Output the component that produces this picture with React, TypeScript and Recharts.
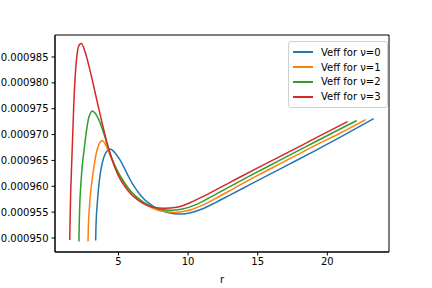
import { LineChart, Line, XAxis, YAxis, ReferenceArea } from 'recharts';

// radius samples and potential values (in units of 1e-6)
const R0 = [3.36, 3.38, 3.42, 3.5, 3.6, 3.7, 3.82, 3.95, 4.1, 4.25, 4.42, 4.6, 4.85, 5.13, 5.42, 5.72, 6.0, 6.32, 6.6, 6.92, 7.3, 7.63, 8.0, 8.35, 8.9, 9.5, 10.2, 11.0, 12.0, 13.0, 14.5, 17.0, 19.0, 21.0, 23.33];
const V0 = [949.5, 952.0, 954.5, 957.5, 960.5, 962.6, 964.3, 965.6, 966.5, 967.0, 967.15, 966.9, 966.1, 965.0, 963.5, 961.9, 960.5, 959.2, 958.2, 957.3, 956.5, 955.9, 955.4, 955.05, 954.75, 954.65, 954.9, 955.6, 956.9, 958.3, 960.4, 963.9, 966.7, 969.6, 973.07];

const R1 = [2.81, 2.84, 2.9, 3.0, 3.12, 3.25, 3.36, 3.5, 3.65, 3.79, 3.95, 4.15, 4.4, 4.7, 5.0, 5.5, 6.0, 6.7, 7.5, 8.3, 9.1, 10.0, 11.0, 12.0, 13.3, 15.0, 17.0, 19.0, 21.0, 22.76];
const V1 = [949.3, 952.5, 955.5, 958.8, 961.5, 964.0, 965.8, 967.4, 968.4, 968.8, 968.6, 967.6, 966.0, 964.2, 962.6, 960.4, 958.7, 957.0, 955.7, 955.1, 954.95, 955.3, 956.3, 957.7, 959.6, 962.1, 964.9, 967.7, 970.4, 972.9];

const R2 = [2.16, 2.18, 2.22, 2.3, 2.4, 2.52, 2.69, 2.83, 3.0, 3.12, 3.3, 3.6, 3.9, 4.2, 4.5, 4.8, 5.2, 5.7, 6.3, 7.0, 7.8, 8.7, 9.6, 10.6, 11.6, 12.9, 14.5, 16.5, 18.5, 20.5, 22.11];
const V2 = [949.3, 952.5, 956.5, 960.5, 964.0, 966.8, 970.5, 972.9, 974.2, 974.55, 974.2, 972.8, 970.6, 968.0, 965.6, 963.6, 961.6, 959.6, 957.9, 956.6, 955.7, 955.35, 955.6, 956.5, 957.9, 959.8, 962.1, 964.9, 967.7, 970.5, 972.7];

const R3 = [1.5, 1.52, 1.56, 1.62, 1.7, 1.8, 1.92, 2.05, 2.2, 2.33, 2.6, 2.9, 3.2, 3.5, 3.8, 4.1, 4.4, 4.7, 5.0, 5.5, 6.0, 6.7, 7.4, 8.3, 9.2, 10.2, 11.2, 12.3, 13.5, 15.0, 17.0, 19.0, 21.45];
const V3 = [949.6, 953.0, 958.0, 963.0, 969.0, 976.5, 982.5, 986.0, 987.4, 987.6, 986.0, 983.0, 979.6, 976.0, 972.5, 969.2, 966.3, 963.9, 962.0, 959.8, 958.2, 956.8, 956.0, 955.75, 955.95, 956.9, 958.2, 959.75, 961.45, 963.55, 966.3, 969.1, 972.5];

const NAMES = ['Veff for ν=0', 'Veff for ν=1', 'Veff for ν=2', 'Veff for ν=3'];
const COLORS = ['#1f77b4', '#ff7f0e', '#2ca02c', '#d62728'];
const X_TICKS = [5, 10, 15, 20];
const Y_TICKS = [0.00095, 0.000955, 0.00096, 0.000965, 0.00097, 0.000975, 0.00098, 0.000985];
const X_DOMAIN = [0.44, 24.43];
const Y_DOMAIN = [0.00094729, 0.00098925];

const build = (rs: number[], vs: number[]) => rs.map((r, i) => ({ r, v: vs[i] * 1e-6 }));
const series = [build(R0, V0), build(R1, V1), build(R2, V2), build(R3, V3)];

const font = 'DejaVu Sans, sans-serif';
const tick = { fontSize: 10, fill: '#000', fontFamily: font };

function LegendBox() {
  return (
    <div
      style={{
        position: 'absolute',
        left: 288,
        top: 41,
        border: '1px solid #d0d0d0',
        borderRadius: 3,
        background: 'rgba(255,255,255,0.8)',
        padding: '3px 6px 3px 4px',
        fontFamily: font,
        fontSize: 10,
        color: '#000',
      }}
    >
      {NAMES.map((n, i) => (
        <div key={n} style={{ display: 'flex', alignItems: 'center', height: 14.8 }}>
          <span style={{ width: 20, height: 2, background: COLORS[i], marginRight: 8 }} />
          <span>{n}</span>
        </div>
      ))}
    </div>
  );
}

export default function App() {
  return (
    <div style={{ position: 'absolute', left: 0, top: 0, width: 432, height: 288, background: '#fff' }}>
      <LineChart width={432} height={288} margin={{ top: 35, right: 43, bottom: 0, left: 0 }}>
        <XAxis
          dataKey="r"
          type="number"
          domain={X_DOMAIN}
          ticks={X_TICKS}
          allowDataOverflow
          height={36}
          tick={tick}
          tickSize={3.5}
          tickMargin={2}
          stroke="#000"
          label={{ value: 'r', position: 'insideBottom', offset: 5, style: { fontSize: 10, fill: '#000', fontFamily: font } }}
        />
        <YAxis
          type="number"
          domain={Y_DOMAIN}
          ticks={Y_TICKS}
          allowDataOverflow
          width={55}
          tick={tick}
          tickSize={3.5}
          tickMargin={3}
          stroke="#000"
          tickFormatter={(v: number) => v.toFixed(6)}
        />
        <ReferenceArea
          x1={X_DOMAIN[0]}
          x2={X_DOMAIN[1]}
          y1={Y_DOMAIN[0]}
          y2={Y_DOMAIN[1]}
          fill="none"
          stroke="#000"
          strokeWidth={1}
          ifOverflow="visible"
        />
        {series.map((d, i) => (
          <Line
            key={NAMES[i]}
            data={d}
            dataKey="v"
            name={NAMES[i]}
            type="monotone"
            stroke={COLORS[i]}
            strokeWidth={1.5}
            dot={false}
            isAnimationActive={false}
          />
        ))}
      </LineChart>
      <LegendBox />
    </div>
  );
}
